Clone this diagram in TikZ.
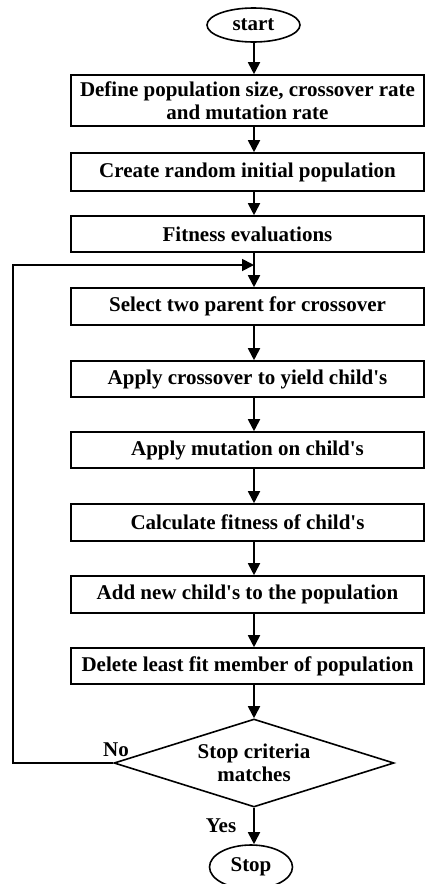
\documentclass[tikz,border=0pt]{standalone}
\usepackage{fontspec}
\setmainfont{Liberation Serif}
\usetikzlibrary{arrows.meta,shapes.geometric}
\newcommand{\apo}{\textquotesingle}
\begin{document}
\begin{tikzpicture}[x=1pt,y=-1pt,
  every node/.style={font=\fontsize{21}{23}\selectfont\bfseries},
  box/.style={draw,line width=1.6pt,rectangle,inner sep=0pt,minimum width=353pt,align=center},
  term/.style={draw,line width=1.6pt,ellipse,inner sep=0pt},
  dec/.style={draw,line width=1.6pt,diamond,aspect=3.18,inner sep=0pt,minimum width=280pt,minimum height=88pt,align=center},
  arr/.style={line width=1.8pt,-{Triangle[length=12pt,width=12pt]}},
  lbl/.style={inner sep=0pt}]
\useasboundingbox (0,0) rectangle (425,884);
\node[term,minimum width=93pt,minimum height=34pt] (start) at (253.5,25) {start};
\node[box,minimum height=51pt] (b1) at (247.5,100.5) {Define population size, crossover rate\\and mutation rate};
\node[box,minimum height=38pt] (b2) at (247.5,172) {Create random initial population};
\node[box,minimum height=36pt] (b3) at (247.5,234) {Fitness evaluations};
\node[box,minimum height=37pt] (b4) at (247.5,306.5) {Select two parent for crossover};
\node[box,minimum height=36pt] (b5) at (247.5,379) {Apply crossover to yield child\apo s};
\node[box,minimum height=36pt] (b6) at (247.5,450) {Apply mutation on child\apo s};
\node[box,minimum height=37pt] (b7) at (247.5,522.5) {Calculate fitness of child\apo s};
\node[box,minimum height=37pt] (b8) at (247.5,594.5) {Add new child\apo s to the population};
\node[box,minimum height=36pt] (b9) at (247.5,666) {Delete least fit member of population};
\node[dec] (d) at (254,763) {Stop criteria\\matches};
\node[term,minimum width=83pt,minimum height=44pt] (stop) at (251,867) {Stop};
\coordinate (m) at (254,265);
\coordinate (lt) at (13,265);
\coordinate (lb) at (13,763);
\draw[arr] (start.south -| 254,0) -- (254,0 |- b1.north);
\draw[arr] (b1.south -| 254,0) -- (254,0 |- b2.north);
\draw[arr] (b2.south -| 254,0) -- (254,0 |- b3.north);
\draw[arr] (b3.south -| 254,0) -- (254,0 |- b4.north);
\draw[arr] (b4.south -| 254,0) -- (254,0 |- b5.north);
\draw[arr] (b5.south -| 254,0) -- (254,0 |- b6.north);
\draw[arr] (b6.south -| 254,0) -- (254,0 |- b7.north);
\draw[arr] (b7.south -| 254,0) -- (254,0 |- b8.north);
\draw[arr] (b8.south -| 254,0) -- (254,0 |- b9.north);
\draw[arr] (b9.south -| 254,0) -- (d.north);
\draw[arr] (d.south) -- (254,0 |- stop.north);
\draw[arr] (d.west) -- (lb) -- (lt) -- (m);
\node[lbl] at (116,750) {No};
\node[lbl] at (221,826) {Yes};
\end{tikzpicture}
\end{document}
